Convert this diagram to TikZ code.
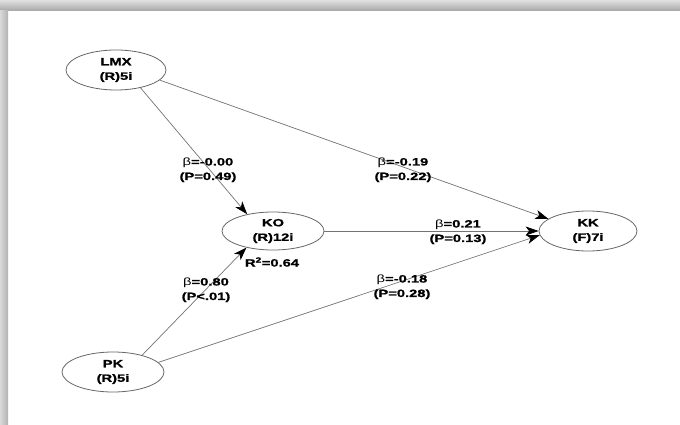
\documentclass[tikz,border=0pt]{standalone}
\usepackage{fontspec}
\usetikzlibrary{shapes.geometric,arrows.meta}
\newfontfamily\lblfont[FakeStretch=1.4,BoldFeatures={FakeBold=1.2}]{Liberation Sans}
\tikzset{
  lv/.style={ellipse,draw=black!60,line width=0.8pt,inner sep=0pt,align=center,
    font=\lblfont\bfseries\fontsize{10.5}{14.5}\selectfont},
  lab/.style={inner sep=0pt,align=center,font=\lblfont\bfseries\fontsize{10.5}{14.5}\selectfont},
  path/.style={draw=black!55,line width=0.7pt,-{Stealth[length=13pt,width=9pt,inset=3.5pt,color=black]}}
}
\newcommand{\bt}{{\mdseries β}}
\begin{document}
\begin{tikzpicture}[x=1pt,y=-1pt]
\useasboundingbox (0,0) rectangle (680,425);
\fill[white] (0,0) rectangle (680,425);
\shade[top color=black!12,bottom color=black!35] (0,0) rectangle (680,11);
\shade[left color=black!15,right color=black!30] (0,11) rectangle (8,425);

\node[lv,minimum width=100pt,minimum height=40pt] (LMX) at (116,70) {LMX\\(R)5i};
\node[lv,minimum width=102pt,minimum height=38pt] (KO) at (273,231) {KO\\(R)12i};
\node[lv,minimum width=98pt,minimum height=40pt] (KK) at (588,231) {KK\\(F)7i};
\node[lv,minimum width=102pt,minimum height=40pt] (PK) at (113,372) {PK\\(R)5i};

\draw[path] (LMX.-36) -- (KO.147);
\draw[path] (LMX.-13) -- (KK.163);
\draw[path] (KO.east) -- (KK.west);
\draw[path] (PK.12) -- (KK.-175);
\draw[path] (PK.30) -- (KO.-148);

\node[lab] (l1) at (208,170) {\bt=-0.00\\(P=0.49)};
\node[lab] (l2) at (403,170) {\bt=-0.19\\(P=0.22)};
\node[lab] (l3) at (458,232) {\bt=0.21\\(P=0.13)};
\node[lab] (l4) at (402,287) {\bt=-0.18\\(P=0.28)};
\node[lab] (l5) at (206,290) {\bt=0.80\\(P<.01)};
\node[lab] (r2) at (272,262) {R\textsuperscript{2}=0.64};
\end{tikzpicture}
\end{document}
